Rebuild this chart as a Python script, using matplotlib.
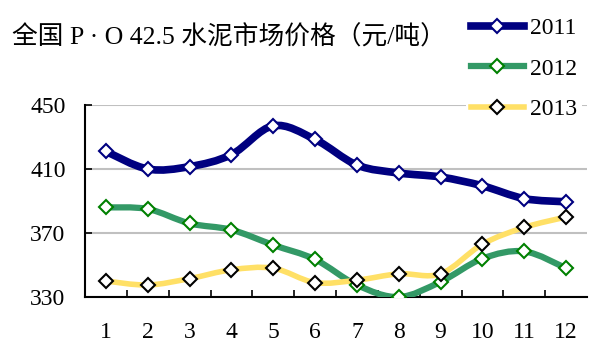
import matplotlib
matplotlib.use("Agg")
import matplotlib.pyplot as plt
from matplotlib.path import Path
from matplotlib.patches import PathPatch
from matplotlib.lines import Line2D

months = [1, 2, 3, 4, 5, 6, 7, 8, 9, 10, 11, 12]
price_2011 = [421, 410, 411.5, 419, 437, 428.5, 412.5, 407.5, 405, 399.5, 391.5, 389.5]
price_2012 = [386, 385, 376, 372, 362.5, 353.5, 337.5, 330, 339.5, 354, 358.5, 348]
price_2013 = [340, 337.5, 341.5, 347, 348, 339, 340.5, 344.5, 344.5, 363, 373.5, 380]
years = ["2011", "2012", "2013"]
y_ticks = [330, 370, 410, 450]

title = "全国 P · O 42.5 水泥市场价格（元/吨）"

line_colors = ["#000080", "#339966", "#FFE066"]
edge_colors = ["#000080", "#008000", "#000000"]
line_widths = [5.5, 4.5, 4.0]

serif = ["Liberation Serif", "Noto Sans CJK SC"]


def smooth_path(xs, ys):
    # Excel style smoothed line: cubic bezier, control points 1/6 of neighbour span
    n = len(xs)
    verts = [(xs[0], ys[0])]
    codes = [Path.MOVETO]
    for i in range(n - 1):
        p0 = max(i - 1, 0)
        p3 = min(i + 2, n - 1)
        c1 = (xs[i] + (xs[i + 1] - xs[p0]) / 6, ys[i] + (ys[i + 1] - ys[p0]) / 6)
        c2 = (xs[i + 1] - (xs[p3] - xs[i]) / 6, ys[i + 1] - (ys[p3] - ys[i]) / 6)
        verts += [c1, c2, (xs[i + 1], ys[i + 1])]
        codes += [Path.CURVE4] * 3
    return Path(verts, codes)


fig = plt.figure(figsize=(5.96, 3.52), dpi=100)
ax = fig.add_axes([85 / 596, 1 - 297 / 352, 502 / 596, 192 / 352])

series = [price_2011, price_2012, price_2013]
handles = []
for vals, lc, ec, lw in zip(series, line_colors, edge_colors, line_widths):
    patch = PathPatch(smooth_path(months, vals), facecolor="none", edgecolor=lc,
                      lw=lw, capstyle="round", joinstyle="round", zorder=3)
    ax.add_patch(patch)
    ax.plot(months, vals, ls="none", marker="D", markersize=7, mfc="white",
            mec=ec, mew=1.5, zorder=4)
    handles.append(Line2D([], [], color=lc, lw=lw, marker="D", markersize=7,
                          mfc="white", mec=ec, mew=1.5))

ax.set_xlim(0.5, 12.5)
ax.set_ylim(330, 450)
ax.set_yticks(y_ticks)
ax.set_yticklabels([str(v) for v in y_ticks], family=serif, fontsize=17)
ax.set_xticks(months)
ax.set_xticklabels([str(m) for m in months], family=serif, fontsize=17)
ax.set_xticks([m + 0.5 for m in months[:-1]], minor=True)
ax.tick_params(axis="x", which="major", length=0, pad=18)
ax.tick_params(axis="x", which="minor", direction="in", length=5, width=1.2)
ax.tick_params(axis="y", direction="in", length=5, width=1.2, pad=14)
ax.grid(axis="y", color="#c0c0c0", lw=1.5, zorder=0)
ax.set_axisbelow(True)
for s in ["top", "right"]:
    ax.spines[s].set_visible(False)
for s in ["left", "bottom"]:
    ax.spines[s].set_linewidth(1.5)

fig.text(12 / 596, 1 - 37 / 352, title, family=serif, fontsize=18.5, va="center", ha="left")

leg = fig.legend(handles, years, loc="upper left", bbox_to_anchor=(466 / 596, 1 - 13 / 352),
                 prop={"family": serif, "size": 17}, frameon=True, fancybox=False,
                 edgecolor="none", facecolor="white", framealpha=1,
                 handlelength=2.25, handletextpad=0.25, labelspacing=0.8,
                 borderpad=0.2, borderaxespad=0)
leg.set_zorder(10)

fig.savefig("out.png", dpi=100)
